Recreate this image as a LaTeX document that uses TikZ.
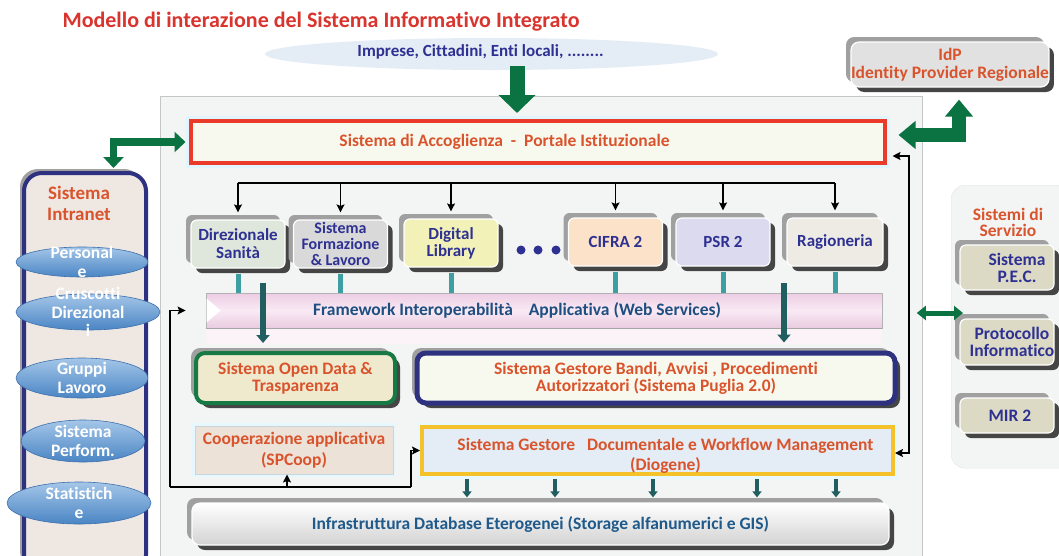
\documentclass[tikz,border=0pt]{standalone}
\usepackage{fontspec}
\setmainfont[Ligatures=NoCommon]{Carlito}
\usetikzlibrary{shapes.geometric,arrows.meta,shadows,calc}
\definecolor{titlered}{HTML}{D9342E}
\definecolor{navy}{HTML}{2E3192}
\definecolor{orangetxt}{HTML}{D9542C}
\definecolor{steel}{HTML}{1F5A8A}
\definecolor{ggreen}{HTML}{0B7342}
\definecolor{tealstub}{HTML}{3E9FA2}
\definecolor{darkteal}{HTML}{215E5F}
\definecolor{panelbg}{HTML}{F3F5F4}
\definecolor{ellbg}{HTML}{E4EDF5}
\definecolor{portalred}{HTML}{EA3A2A}
\definecolor{portalbg}{HTML}{F8F9EE}
\definecolor{shlight}{HTML}{A0A0A0}
\definecolor{shdark}{HTML}{454545}
\definecolor{intrabg}{HTML}{EEE7E2}
\definecolor{intranavy}{HTML}{2E3180}
\definecolor{elltop}{HTML}{A4C6E8}
\definecolor{ellbot}{HTML}{4A85C4}
\definecolor{ellborder}{HTML}{3D70AD}
\definecolor{odgreen}{HTML}{177A45}
\definecolor{odbg}{HTML}{EFE9CE}
\definecolor{coopbg}{HTML}{ECE2D8}
\definecolor{docyellow}{HTML}{F6C22C}
\definecolor{fwtop}{HTML}{EDCDE4}
\definecolor{fwmid}{HTML}{F9EAF4}
\definecolor{fwbot}{HTML}{E9CBE0}
\definecolor{fwtext}{HTML}{1F4E80}
\definecolor{c-dir}{HTML}{DFE6DC}
\definecolor{c-form}{HTML}{D9D9D9}
\definecolor{c-dig}{HTML}{F2F2B8}
\definecolor{c-cifra}{HTML}{FCE2C8}
\definecolor{c-psr}{HTML}{DCDAEE}
\definecolor{c-rag}{HTML}{EEEBE5}
\definecolor{c-serv}{HTML}{DCDAC5}
\definecolor{c-idp}{HTML}{E1E1E1}
\tikzset{
  txt/.style={font=\bfseries\fontsize{17.5}{17}\selectfont, align=center, inner sep=0pt},
  btn3d/.style={rectangle, rounded corners=6pt, draw=white, line width=1.2pt, inner sep=0pt,
    minimum width=94pt, minimum height=48pt, txt, text=navy,
    general shadow={fill=shlight, shadow xshift=-5pt, shadow yshift=5pt},
    general shadow={fill=shdark, shadow xshift=5pt, shadow yshift=-5pt}},
  obox/.style={txt, text=orangetxt},
  intraell/.style={ellipse, top color=elltop, bottom color=ellbot, draw=ellborder, line width=0.6pt, inner sep=0pt},
  itxt/.style={font=\bfseries\fontsize{17.5}{18.5}\selectfont, align=center, text=white, inner sep=0pt},
  conn/.style={draw=black, line width=1.2pt},
  tip/.tip={Stealth[length=8pt,width=8pt,inset=1.5pt]},
  gthick/.style={draw=ggreen, line width=14pt},
  gthin/.style={draw=ggreen, line width=7.5pt},
  stub/.style={draw=tealstub, line width=5pt},
  darkarr/.style={draw=darkteal, line width=6pt, -{Triangle[width=13pt,length=8pt]}},
  smallarr/.style={draw=darkteal, line width=4pt, -{Triangle[width=9pt,length=6pt]}},
}
\begin{document}
\begin{tikzpicture}[x=1pt,y=-1pt]
\useasboundingbox (0,0) rectangle (1059,555);
\fill[white] (0,0) rectangle (1059,555);

% title
\node[font=\bfseries\fontsize{22}{26}\selectfont, text=titlered, inner sep=0pt] (title) at (321,22) {Modello di interazione del Sistema Informativo Integrato};

% users ellipse
\node[ellipse, fill=ellbg, minimum width=453pt, minimum height=32pt, inner sep=0pt,
  label={[txt, text=navy, font=\bfseries\fontsize{17}{17}\selectfont, xshift=-11pt, yshift=2pt]center:Imprese, Cittadini, Enti locali, ........}] (users) at (491.5,54) {};

% main panel
\node[rectangle, fill=panelbg, draw=gray!45, line width=0.8pt, anchor=north west,
  minimum width=762pt, minimum height=470pt, inner sep=0pt] (panel) at (160,96) {};

% right service panel
\node[rectangle, rounded corners=14pt, fill=panelbg, draw=gray!20, anchor=north west,
  minimum width=120pt, minimum height=283pt, inner sep=0pt] (servizio) at (951,185) {};
\node[obox, font=\bfseries\fontsize{17.5}{16}\selectfont] (servtitle) at (1008,222) {Sistemi di\\Servizio};

% IdP
\node[btn3d, fill=c-idp, minimum width=194pt, minimum height=45pt, text=orangetxt,
  font=\bfseries\fontsize{17.5}{18}\selectfont, rounded corners=8pt] (idp) at (950,64.5) {IdP\\Identity Provider Regionale};

% portale
\node[rectangle, draw=portalred, line width=4pt, fill=portalbg, minimum width=694pt, minimum height=42pt,
  preaction={draw=cyan!12, line width=10pt},
  label={[obox, xshift=-33pt]center:Sistema di Accoglienza\ \ -\ \ Portale Istituzionale}] (portale) at (537.5,142) {};

% intranet
\node[rectangle, rounded corners=18pt, draw=intranavy, line width=4pt, fill=intrabg, anchor=north west,
  minimum width=122pt, minimum height=400pt, inner sep=0pt,
  general shadow={fill=shlight, shadow xshift=-4pt, shadow yshift=4pt}] (intranet) at (22,171) {};
\node[obox, font=\bfseries\fontsize{19}{21}\selectfont] (intratitle) at (79,203) {Sistema\\Intranet};

\node[intraell, minimum width=132pt, minimum height=30pt, label={[itxt]center:Personal\\e}] (e1) at (82,262) {};
\node[intraell, minimum width=144pt, minimum height=36pt, label={[itxt]center:Cruscotti\\Direzional\\i}] (e2) at (88,312) {};
\node[intraell, minimum width=132pt, minimum height=40pt, label={[itxt]center:Gruppi\\Lavoro}] (e3) at (82,378) {};
\node[intraell, minimum width=124pt, minimum height=42pt, label={[itxt]center:Sistema\\Perform.}] (e4) at (83,441) {};
\node[intraell, minimum width=144pt, minimum height=42pt, label={[itxt]center:Statistich\\e}] (e5) at (79,503) {};

% top row buttons
\node[btn3d, fill=c-dir, font=\bfseries\fontsize{17}{18}\selectfont] (dir) at (238,244) {Direzionale\\Sanità};
\node[btn3d, fill=c-form, font=\bfseries\fontsize{16}{16}\selectfont] (form) at (340.5,244) {Sistema\\Formazione\\\& Lavoro};
\node[btn3d, fill=c-dig, font=\bfseries\fontsize{17}{17}\selectfont] (dig) at (451,243) {Digital\\Library};
\node[btn3d, fill=c-cifra, font=\bfseries\fontsize{17}{17}\selectfont] (cifra) at (615.5,242) {CIFRA 2};
\node[btn3d, fill=c-psr, font=\bfseries\fontsize{17}{17}\selectfont] (psr) at (723,242) {PSR 2};
\node[btn3d, fill=c-rag, minimum width=96pt, font=\bfseries\fontsize{17}{17}\selectfont] (rag) at (835,242) {Ragioneria};
\node[circle, fill=navy, minimum size=9pt, inner sep=0pt] (dot1) at (521,250) {};
\node[circle, fill=navy, minimum size=9pt, inner sep=0pt] (dot2) at (538,250) {};
\node[circle, fill=navy, minimum size=9pt, inner sep=0pt] (dot3) at (556,250) {};

% framework bar
\node[rectangle, top color=fwtop, bottom color=fwbot, middle color=fwmid, draw=gray!60, line width=0.8pt,
  minimum width=676pt, minimum height=35pt, inner sep=0pt] (fw) at (544,310.5) {};
\fill[white] ($(fw.west)+(1,-12)$) -- ($(fw.west)+(15,0)$) -- ($(fw.west)+(1,12)$) -- cycle;
\draw[gray!70, line width=1.5pt] (fw.south west) -- (fw.south east);
\fill[fwmid!60] ($(fw.south west)+(0,1)$) rectangle ($(fw.south east)+(0,16)$);
\node[txt, text=fwtext] (fwtext) at (517,310) {Framework Interoperabilità\hspace{16pt}Applicativa (Web Services)};

% middle boxes
\node[btn3d, fill=odbg, draw=odgreen, line width=4pt, rounded corners=9pt,
  minimum width=199pt, minimum height=50pt, text=orangetxt] (opendata) at (295.5,378) {Sistema Open Data \&\\Trasparenza};
\node[btn3d, fill=portalbg, draw=intranavy, line width=5pt, rounded corners=9pt,
  minimum width=478pt, minimum height=50pt, text=orangetxt] (bandi) at (656,378) {Sistema Gestore Bandi, Avvisi , Procedimenti\\Autorizzatori (Sistema Puglia 2.0)};
\node[rectangle, fill=coopbg, draw=cyan!25!gray!40, line width=1pt, preaction={draw=cyan!10, line width=6pt},
  minimum width=198pt, minimum height=48pt, obox, font=\bfseries\fontsize{17.5}{21}\selectfont] (coop) at (294,450) {Cooperazione applicativa\\(SPCoop)};
\node[rectangle, fill=ellbg, draw=docyellow, line width=4pt, preaction={draw=cyan!10, line width=9pt},
  minimum width=471pt, minimum height=47pt, inner sep=0pt,
  label={[obox, font=\bfseries\fontsize{17.5}{20}\selectfont, xshift=8pt, yshift=-5pt]center:Sistema Gestore\ \ \ Documentale e Workflow Management\\(Diogene)}] (doc) at (657.5,450.5) {};

% infrastructure
\node[btn3d, top color=white, bottom color=gray!35, rounded corners=8pt, minimum width=697pt, minimum height=42pt,
  text=steel] (infra) at (540.5,524) {Infrastruttura Database Eterogenei (Storage alfanumerici e GIS)};

% service buttons
\node[btn3d, fill=c-serv, minimum height=45pt, label={[txt, text=navy, xshift=10pt]center:Sistema\\P.E.C.}] (pec) at (1007,267.5) {};
\node[btn3d, fill=c-serv, minimum height=46pt, label={[txt, font=\bfseries\fontsize{17.5}{16.5}\selectfont, text=navy, xshift=5pt]center:Protocollo\\Informatico}] (proto) at (1007,342) {};
\node[btn3d, fill=c-serv, minimum height=35pt, label={[txt, text=navy, xshift=3pt]center:MIR 2}] (mir) at (1007,415.5) {};

% ---- connectors ----
\coordinate (ga) at (517,0);
\draw[draw=ggreen, line width=15pt, -{Triangle[width=36pt,length=18pt]}, shorten <=-4pt, shorten >=6pt]
  (users.south -| ga) -- (portale.north -| ga);

\coordinate (gl) at (113.5,0);
\draw[gthin, {Triangle[width=20pt,length=11pt]}-{Triangle[width=20pt,length=11pt]}, shorten <=3pt, shorten >=3pt]
  (intranet.north -| gl) |- (portale.west);

\coordinate (gr) at (959,0);
\coordinate (grh) at (0,135);
\draw[gthick, {Triangle[width=27pt,length=17pt]}-{Triangle[width=27pt,length=17pt]}, shorten <=12pt, shorten >=12pt]
  (idp.south -| gr) |- (portale.east |- grh);

\coordinate (gd) at (0,313);
\draw[draw=ggreen, line width=5pt, {Triangle[width=14pt,length=9pt]}-{Triangle[width=14pt,length=9pt]}, shorten <=-6pt, shorten >=-12pt]
  (panel.east |- gd) -- (servizio.west |- gd);

% bus
\coordinate (bus) at (0,183);
\draw[conn] (dir.north |- bus) -- (rag.north |- bus);
\foreach \b in {dir,form,dig,cifra,psr,rag}{
  \draw[conn, -tip, shorten >=7pt] (\b.north |- bus) -- (\b.north);
  \draw[stub, shorten <=5pt] (\b.south) -- (\b.south |- fw.north);
}

% dark teal arrows
\coordinate (d1) at (263,283);
\coordinate (d2) at (784,283);
\draw[darkarr, shorten >=8pt] (d1) -- (d1 |- opendata.north);
\draw[darkarr, shorten >=8pt] (d2) -- (d2 |- bandi.north);

% doc -> infra
\foreach \x in {467,555,653,757,836}{
  \coordinate (sx) at (\x,0);
  \draw[smallarr, shorten <=3pt, shorten >=5pt] (doc.south -| sx) -- (infra.north -| sx);
}

% left black connector
\coordinate (lb) at (170,487);
\coordinate (rb) at (411,487);
\coordinate (cu) at (287,487);
\draw[conn] (lb) -- (rb);
\draw[conn, -tip, shorten >=20pt] (lb) |- (fw.west);
\draw[conn, -tip] (rb) |- (doc.west);
\draw[conn, -tip] (cu) -- (cu |- coop.south);

% right black connector
\coordinate (rt) at (909,156);
\coordinate (rbt) at (909,453);
\draw[conn, tip-tip, shorten <=6pt] (portale.east |- rt) -- (rt) -- (rbt) -- (doc.east |- rbt);

\end{tikzpicture}
\end{document}
